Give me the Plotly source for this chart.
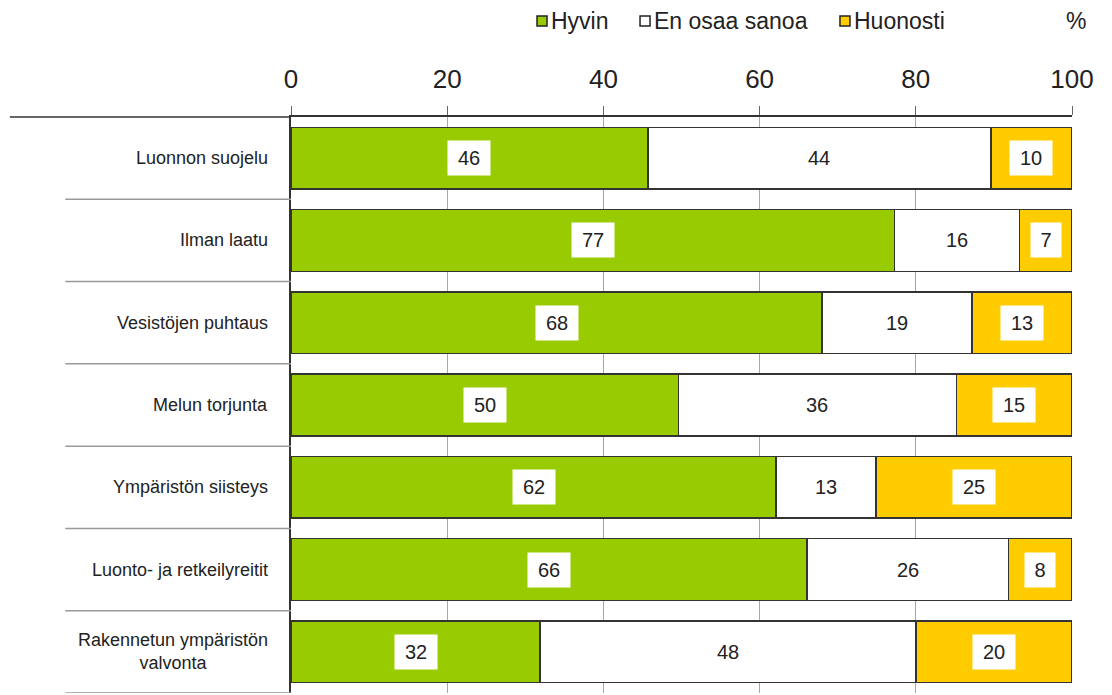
import plotly.graph_objects as go

categories = ["Luonnon suojelu", "Ilman laatu", "Vesistöjen puhtaus", "Melun torjunta",
              "Ympäristön siisteys", "Luonto- ja retkeilyreitit", "Rakennetun ympäristön<br>valvonta"]
hyvin = [45.7, 77.3, 68.0, 49.6, 62.1, 66.1, 31.9]
en_osaa = [43.9, 16.0, 19.2, 35.6, 12.8, 25.8, 48.1]
huonosti = [10.4, 6.7, 12.8, 14.8, 25.1, 8.1, 20.0]
series_names = ["Hyvin", "En osaa sanoa", "Huonosti"]
colors = ["#99CC00", "#FFFFFF", "#FFCC00"]
tick_vals = [0, 20, 40, 60, 80, 100]

FONT = "Liberation Sans, Arial, sans-serif"
TXT = "#222222"
fig = go.Figure()
series = [hyvin, en_osaa, huonosti]
for name, vals, col in zip(series_names, series, colors):
    fig.add_trace(go.Bar(
        y=categories, x=vals, name=name, orientation="h",
        marker=dict(color=col, line=dict(color="#333333", width=1.5)),
        width=0.75, showlegend=False,
    ))

# value labels in white boxes
for i, cat in enumerate(categories):
    start = 0
    for vals in series:
        v = vals[i]
        s = f"{round(v):d}"
        fig.add_annotation(x=start + v / 2, y=cat, xref="x", yref="y",
                           text=s, showarrow=False,
                           font=dict(family=FONT, size=20, color=TXT),
                           bgcolor="white", borderpad=0,
                           width=12 * len(s) + 18, height=34)
        start += v

# category labels
for cat in categories:
    fig.add_annotation(x=-0.027, y=cat, xref="paper", yref="y", text=cat,
                       showarrow=False, xanchor="right", align="center",
                       font=dict(family=FONT, size=18, color=TXT))

# separators to the left of the plot
n = len(categories)
for k in range(n):
    fig.add_shape(type="line", xref="paper", yref="y", x0=-0.289, x1=0,
                  y0=k + 0.5, y1=k + 0.5, line=dict(color="#999999", width=1.5))
fig.add_shape(type="line", xref="paper", yref="paper", x0=-0.36, x1=0,
              y0=1, y1=1, line=dict(color="#333333", width=1.5))

# manual legend (compact swatches as in the original)
leg_x = [0.315, 0.4469, 0.7029]
for name, col, x0 in zip(series_names, colors, leg_x):
    fig.add_shape(type="rect", xref="paper", yref="paper",
                  x0=x0, x1=x0 + 0.0128, y0=1.158, y1=1.1753,
                  fillcolor=col, line=dict(color="#222222", width=1.5))
    fig.add_annotation(x=x0 + 0.0153, y=1.1667, xref="paper", yref="paper",
                       text=name, showarrow=False, xanchor="left", yanchor="middle",
                       font=dict(family=FONT, size=23, color=TXT))

fig.add_annotation(x=1.0055, y=1.1667, xref="paper", yref="paper", text="%",
                   showarrow=False, xanchor="center", yanchor="middle",
                   font=dict(family=FONT, size=23, color=TXT))

fig.update_layout(
    width=1096, height=687,
    margin=dict(l=283, r=32, t=109, b=2),
    barmode="stack", bargap=0.25,
    plot_bgcolor="white", paper_bgcolor="white",
    showlegend=False,
    xaxis=dict(side="top", range=[0, 100], tickvals=tick_vals,
               showgrid=True, gridcolor="#A8A8A8", gridwidth=1,
               ticks="outside", ticklen=9, tickcolor="#666666",
               ticklabelstandoff=8,
               showline=True, linecolor="#333333", linewidth=1.5,
               tickfont=dict(family=FONT, size=26, color=TXT),
               zeroline=False),
    yaxis=dict(showticklabels=False, showgrid=False,
               showline=True, linecolor="#333333", linewidth=1.5, ticks="",
               range=[n - 0.5, -0.5]),
)

fig.write_html("out.html")
